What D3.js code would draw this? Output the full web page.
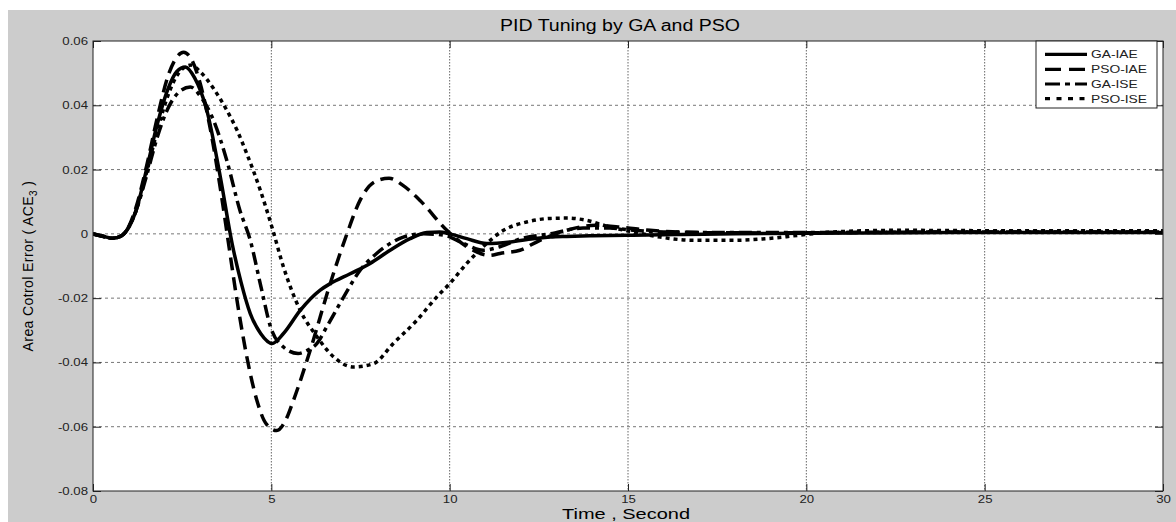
<!DOCTYPE html>
<html>
<head>
<meta charset="utf-8">
<script src="https://cdn.jsdelivr.net/npm/d3@7/dist/d3.min.js"></script>
<style>
  html, body { margin: 0; padding: 0; background: #ffffff; }
  svg { display: block; }
  text { font-family: "Liberation Sans", Arial, sans-serif; }
</style>
</head>
<body>
<svg id="chart" width="1176" height="522"></svg>
<script>
// ---------------- data ----------------
const title = "PID Tuning by GA and PSO";
const xLabel = "Time , Second";
const seriesNames = ["GA-IAE", "PSO-IAE", "GA-ISE", "PSO-ISE"];
const xTicks = [0, 5, 10, 15, 20, 25, 30];
const yTicks = [-0.08, -0.06, -0.04, -0.02, 0, 0.02, 0.04, 0.06];

const gaIaeT = [0, 0.3, 0.55, 0.8, 1.0, 1.2, 1.5, 1.8, 2.1, 2.35, 2.59, 2.85, 3.19, 3.57, 3.9, 4.15, 4.41, 4.7, 5.02, 5.34, 5.81, 6.37, 6.65, 7.21, 7.77, 8.33, 8.89, 9.36, 9.72, 10.0, 10.48, 11.04, 11.7, 12.34, 12.82, 13.28, 14.0, 15.14, 16.5, 18, 20, 22, 25, 28, 30];
const gaIaeV = [0, -0.0008, -0.0014, -0.0006, 0.002, 0.007, 0.02, 0.034, 0.045, 0.0505, 0.0519, 0.0485, 0.0385, 0.0177, -0.003, -0.015, -0.0248, -0.031, -0.0341, -0.031, -0.0238, -0.0175, -0.0155, -0.0124, -0.0092, -0.0051, -0.0015, 0.0004, 0.0006, 0.0, -0.0015, -0.003, -0.0025, -0.0015, -0.001, -0.0008, -0.0006, -0.0004, -0.0002, 0, 0.0002, 0.0003, 0.0004, 0.0004, 0.0004];

const psoIaeT = [0, 0.3, 0.55, 0.8, 1.0, 1.2, 1.5, 1.8, 2.1, 2.35, 2.54, 2.75, 3.0, 3.3, 3.6, 3.8, 4.1, 4.41, 4.6, 4.85, 5.15, 5.4, 5.62, 6.09, 6.65, 7.12, 7.49, 7.9, 8.3, 8.7, 9.17, 9.92, 10.48, 11.13, 11.41, 11.97, 12.53, 13.28, 14.1, 14.87, 15.62, 17, 19, 22, 25, 28, 30];
const psoIaeV = [0, -0.0008, -0.0014, -0.0006, 0.0022, 0.008, 0.021, 0.036, 0.049, 0.055, 0.0565, 0.0545, 0.047, 0.032, 0.012, -0.003, -0.025, -0.0435, -0.052, -0.059, -0.0612, -0.058, -0.0518, -0.0362, -0.0155, 0.0, 0.0105, 0.0162, 0.0173, 0.015, 0.0104, 0.0011, -0.004, -0.0067, -0.0061, -0.0051, -0.002, 0.0011, 0.0027, 0.002, 0.0011, 0.0004, 0.0003, 0.0005, 0.0006, 0.0006, 0.0006];

const gaIseT = [0, 0.3, 0.55, 0.8, 1.0, 1.2, 1.5, 1.8, 2.1, 2.4, 2.73, 3.0, 3.38, 3.75, 4.12, 4.41, 4.7, 4.98, 5.34, 5.75, 6.05, 6.28, 6.55, 7.03, 7.49, 7.95, 8.33, 8.7, 9.27, 9.83, 10.39, 10.94, 11.41, 12.0, 12.81, 13.74, 14.5, 15.14, 16, 18, 20, 22, 25, 28, 30];
const gaIseV = [0, -0.0008, -0.0014, -0.0006, 0.002, 0.007, 0.018, 0.03, 0.039, 0.044, 0.0457, 0.043, 0.0353, 0.0229, 0.0073, -0.002, -0.016, -0.029, -0.0352, -0.0372, -0.036, -0.0341, -0.029, -0.0196, -0.0113, -0.0061, -0.003, -0.001, 0.0, -0.0004, -0.003, -0.0051, -0.004, -0.0015, 0.0, 0.0018, 0.0018, 0.0011, 0.0006, 0.0004, 0.0004, 0.0005, 0.0006, 0.0006, 0.0006];

const psoIseT = [0, 0.3, 0.55, 0.8, 1.0, 1.2, 1.5, 1.8, 2.1, 2.4, 2.75, 3.01, 3.38, 3.75, 4.04, 4.31, 4.69, 5.02, 5.34, 5.81, 6.28, 6.75, 7.3, 7.86, 8.42, 9.08, 9.64, 10.0, 10.48, 10.94, 11.51, 12.16, 12.82, 13.3, 13.84, 14.5, 15.14, 15.9, 16.83, 17.95, 18.89, 19.82, 20.75, 22.6, 25, 28, 30];
const psoIseV = [0, -0.0008, -0.0014, -0.0006, 0.002, 0.007, 0.019, 0.032, 0.043, 0.05, 0.0525, 0.0504, 0.0452, 0.0385, 0.0322, 0.025, 0.0136, 0.002, -0.0103, -0.0238, -0.032, -0.0383, -0.0414, -0.0404, -0.0341, -0.0269, -0.0196, -0.0155, -0.0092, -0.004, 0.0011, 0.0037, 0.0048, 0.0049, 0.0042, 0.0021, 0.0006, -0.001, -0.002, -0.002, -0.0015, -0.0004, 0.0006, 0.0011, 0.001, 0.001, 0.001];

// ---------------- layout ----------------
const W = 1176, H = 522;
const plot = { left: 93, right: 1163, top: 41, bottom: 491 };
const dashes = { "GA-IAE": null, "PSO-IAE": "13,7", "GA-ISE": "13,5,4,5", "PSO-ISE": "4,4" };
const legendDashes = { "GA-IAE": null, "PSO-IAE": "16,8", "GA-ISE": "15,5,5,5", "PSO-ISE": "5,6.5" };
const STRETCH = 1.2;

const svg = d3.select("#chart");
svg.append("rect").attr("x", 0).attr("y", 0).attr("width", W).attr("height", H).attr("fill", "#ffffff");
svg.append("rect").attr("x", 8).attr("y", 10).attr("width", W - 8).attr("height", H - 10).attr("fill", "#cccccc");

const x = d3.scaleLinear().domain([0, 30]).range([plot.left, plot.right]);
const y = d3.scaleLinear().domain([-0.08, 0.06]).range([plot.bottom, plot.top]);

svg.append("rect")
  .attr("x", plot.left).attr("y", plot.top)
  .attr("width", plot.right - plot.left).attr("height", plot.bottom - plot.top)
  .attr("fill", "#ffffff");

function stretch(sel, k) {
  sel.each(function () {
    const L = this.getComputedTextLength();
    this.setAttribute("textLength", L * k);
    this.setAttribute("lengthAdjust", "spacingAndGlyphs");
  });
}

// grid
const grid = svg.append("g");
grid.selectAll("line.v").data(xTicks.filter(d => d > 0 && d < 30)).join("line")
  .attr("x1", d => x(d)).attr("x2", d => x(d))
  .attr("y1", plot.top).attr("y2", plot.bottom)
  .attr("stroke", "#666").attr("stroke-width", 1).attr("stroke-dasharray", "1.5,1.5");
grid.selectAll("line.h").data(yTicks.filter(d => d > -0.08 + 1e-9 && d < 0.06 - 1e-9)).join("line")
  .attr("x1", plot.left).attr("x2", plot.right)
  .attr("y1", d => y(d)).attr("y2", d => y(d))
  .attr("stroke", "#777").attr("stroke-width", 1).attr("stroke-dasharray", "3,3");

// axes
const fmtY = d => Math.abs(d) < 1e-12 ? "0" : d.toFixed(2);
const axB = svg.append("g").attr("transform", `translate(0,${plot.bottom})`)
  .call(d3.axisBottom(x).tickValues(xTicks).tickSize(-7).tickPadding(4).tickFormat(d3.format("d")));
const axL = svg.append("g").attr("transform", `translate(${plot.left},0)`)
  .call(d3.axisLeft(y).tickValues(yTicks).tickSize(-8).tickPadding(5).tickFormat(fmtY));
const axT = svg.append("g").attr("transform", `translate(0,${plot.top})`)
  .call(d3.axisTop(x).tickValues(xTicks).tickSize(-7).tickFormat(""));
const axR = svg.append("g").attr("transform", `translate(${plot.right},0)`)
  .call(d3.axisRight(y).tickValues(yTicks).tickSize(-8).tickFormat(""));
[axB, axL, axT, axR].forEach(a => {
  a.select(".domain").remove();
  a.selectAll("line").attr("stroke", "#222").attr("stroke-width", 1);
  a.selectAll("text").attr("fill", "#222").attr("font-size", 11)
    .attr("font-family", "'Liberation Sans', Arial, sans-serif");
});
stretch(axB.selectAll("text"), STRETCH);
stretch(axL.selectAll("text"), STRETCH);

// lines
const clipId = "plotclip";
svg.append("clipPath").attr("id", clipId).append("rect")
  .attr("x", plot.left).attr("y", plot.top)
  .attr("width", plot.right - plot.left).attr("height", plot.bottom - plot.top);

const series = [
  { name: "GA-IAE", t: gaIaeT, v: gaIaeV },
  { name: "PSO-IAE", t: psoIaeT, v: psoIaeV },
  { name: "GA-ISE", t: gaIseT, v: gaIseV },
  { name: "PSO-ISE", t: psoIseT, v: psoIseV }
];
const line = d3.line().x(d => x(d[0])).y(d => y(d[1])).curve(d3.curveMonotoneX);
const gLines = svg.append("g").attr("clip-path", `url(#${clipId})`);
series.forEach(s => {
  const pts = s.t.map((t, i) => [t, s.v[i]]);
  gLines.append("path").datum(pts)
    .attr("d", line)
    .attr("fill", "none").attr("stroke", "#000").attr("stroke-width", 3.5)
    .attr("stroke-linejoin", "round")
    .attr("stroke-dasharray", dashes[s.name]);
});

// plot frame
svg.append("rect")
  .attr("x", plot.left).attr("y", plot.top)
  .attr("width", plot.right - plot.left).attr("height", plot.bottom - plot.top)
  .attr("fill", "none").attr("stroke", "#222").attr("stroke-width", 1);

// title and labels
svg.append("text").attr("x", 620).attr("y", 31).attr("text-anchor", "middle")
  .attr("font-size", 16).attr("fill", "#000")
  .attr("textLength", 240).attr("lengthAdjust", "spacingAndGlyphs").text(title);
svg.append("text").attr("x", 626).attr("y", 519).attr("text-anchor", "middle")
  .attr("font-size", 15).attr("fill", "#000")
  .attr("textLength", 128).attr("lengthAdjust", "spacingAndGlyphs").text(xLabel);

const yl = svg.append("text")
  .attr("transform", `translate(33,${(plot.top + plot.bottom) / 2}) rotate(-90)`)
  .attr("text-anchor", "middle").attr("font-size", 14).attr("fill", "#000")
  .attr("letter-spacing", 0.4);
yl.append("tspan").text("Area Cotrol Error ( ACE");
yl.append("tspan").attr("dy", 4).attr("font-size", 10).text("3");
yl.append("tspan").attr("dy", -4).text(" )");

// legend
const lg = { x: 1036, y: 41, w: 121, h: 67 };
const gLeg = svg.append("g");
gLeg.append("rect").attr("x", lg.x).attr("y", lg.y).attr("width", lg.w).attr("height", lg.h)
  .attr("fill", "#ffffff").attr("stroke", "#222").attr("stroke-width", 1);
const rowY = [54.3, 69.3, 84, 98.7];
seriesNames.forEach((n, i) => {
  gLeg.append("line").attr("x1", 1045).attr("x2", 1087)
    .attr("y1", rowY[i]).attr("y2", rowY[i])
    .attr("stroke", "#000").attr("stroke-width", 3.2)
    .attr("stroke-dasharray", legendDashes[n]);
  const t = gLeg.append("text").attr("x", 1091).attr("y", rowY[i] + 4)
    .attr("font-size", 11.5).attr("fill", "#222").text(n);
  stretch(t, STRETCH);
});
</script>
</body>
</html>
